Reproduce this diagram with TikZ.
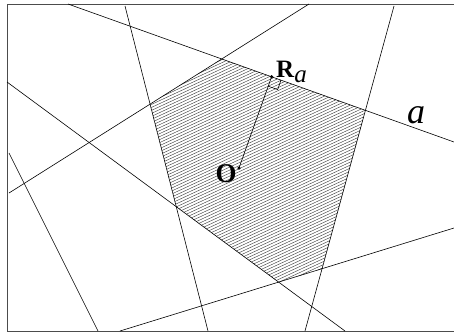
\documentclass[tikz,border=0pt]{standalone}
\usepackage{fontspec}
\setmainfont{Liberation Serif}
\usetikzlibrary{calc}

\begin{document}
\begin{tikzpicture}[x=1pt,y=-1pt,
  ln/.style={line width=0.6pt},
  frm/.style={line width=0.9pt,draw=black!70},
  hatch/.style={line width=0.4pt,draw=black!80},
  pt/.style={circle,fill,inner sep=0pt,minimum size=3.5pt},
  lbl/.style={inner sep=0pt}
]
  \useasboundingbox (0,0) rectangle (454,335);
  \draw[frm] (454,4) -- (7,4) -- (7,331) -- (454,331);
  % the seven lines
  \coordinate (a1) at (68,4);    \coordinate (a2) at (454,142);
  \coordinate (b1) at (125,6);   \coordinate (b2) at (208,331);
  \coordinate (c1) at (7,82);    \coordinate (c2) at (345,331);
  \coordinate (d1) at (9,193);   \coordinate (d2) at (309,4);
  \coordinate (e1) at (9,153);   \coordinate (e2) at (98,331);
  \coordinate (f1) at (394,6);   \coordinate (f2) at (305,331);
  \coordinate (g1) at (120,331); \coordinate (g2) at (454,228);
  % corners of the cell
  \coordinate (A) at (intersection of a1--a2 and d1--d2);
  \coordinate (B) at (intersection of a1--a2 and f1--f2);
  \coordinate (C) at (intersection of f1--f2 and g1--g2);
  \coordinate (D) at (intersection of g1--g2 and c1--c2);
  \coordinate (E) at (intersection of c1--c2 and b1--b2);
  \coordinate (F) at (intersection of b1--b2 and d1--d2);
  \begin{scope}
    \clip (A) -- (B) -- (C) -- (D) -- (E) -- (F) -- cycle;
    \foreach \c in {50,53,...,420}
      \draw[hatch] (120,\c) -- (400,\c-130);
  \end{scope}
  \foreach \l in {a,b,c,d,e,f,g}
    \draw[ln] (\l1) -- (\l2);
  \node[pt] (O) at (239,168) {};
  \coordinate (Ra) at ($(a1)!(O.center)!(a2)$);
  \node[pt] (Rdot) at (Ra) {};
  \draw[ln] (O.center) -- (Rdot.center);
  \coordinate (q1) at ($(Ra)!10pt!(a2)$);
  \coordinate (q2) at ($(Ra)!10pt!(O.center)$);
  \draw[line width=0.6pt] (q1) -- ($(q1)+(q2)-(Ra)$) -- (q2);
  \node[lbl,anchor=base,font=\fontsize{27}{27}\selectfont\bfseries] (Olbl) at (226,182) {O};
  \node[lbl,anchor=base west] (Rlbl) at (276,77) {\fontsize{25}{25}\selectfont\textbf{R}\raisebox{-5pt}{\fontsize{25}{25}\selectfont\itshape a}};
  \node[lbl,anchor=base,font=\fontsize{36}{36}\selectfont\itshape] (albl) at (416,123) {a};
\end{tikzpicture}
\end{document}
